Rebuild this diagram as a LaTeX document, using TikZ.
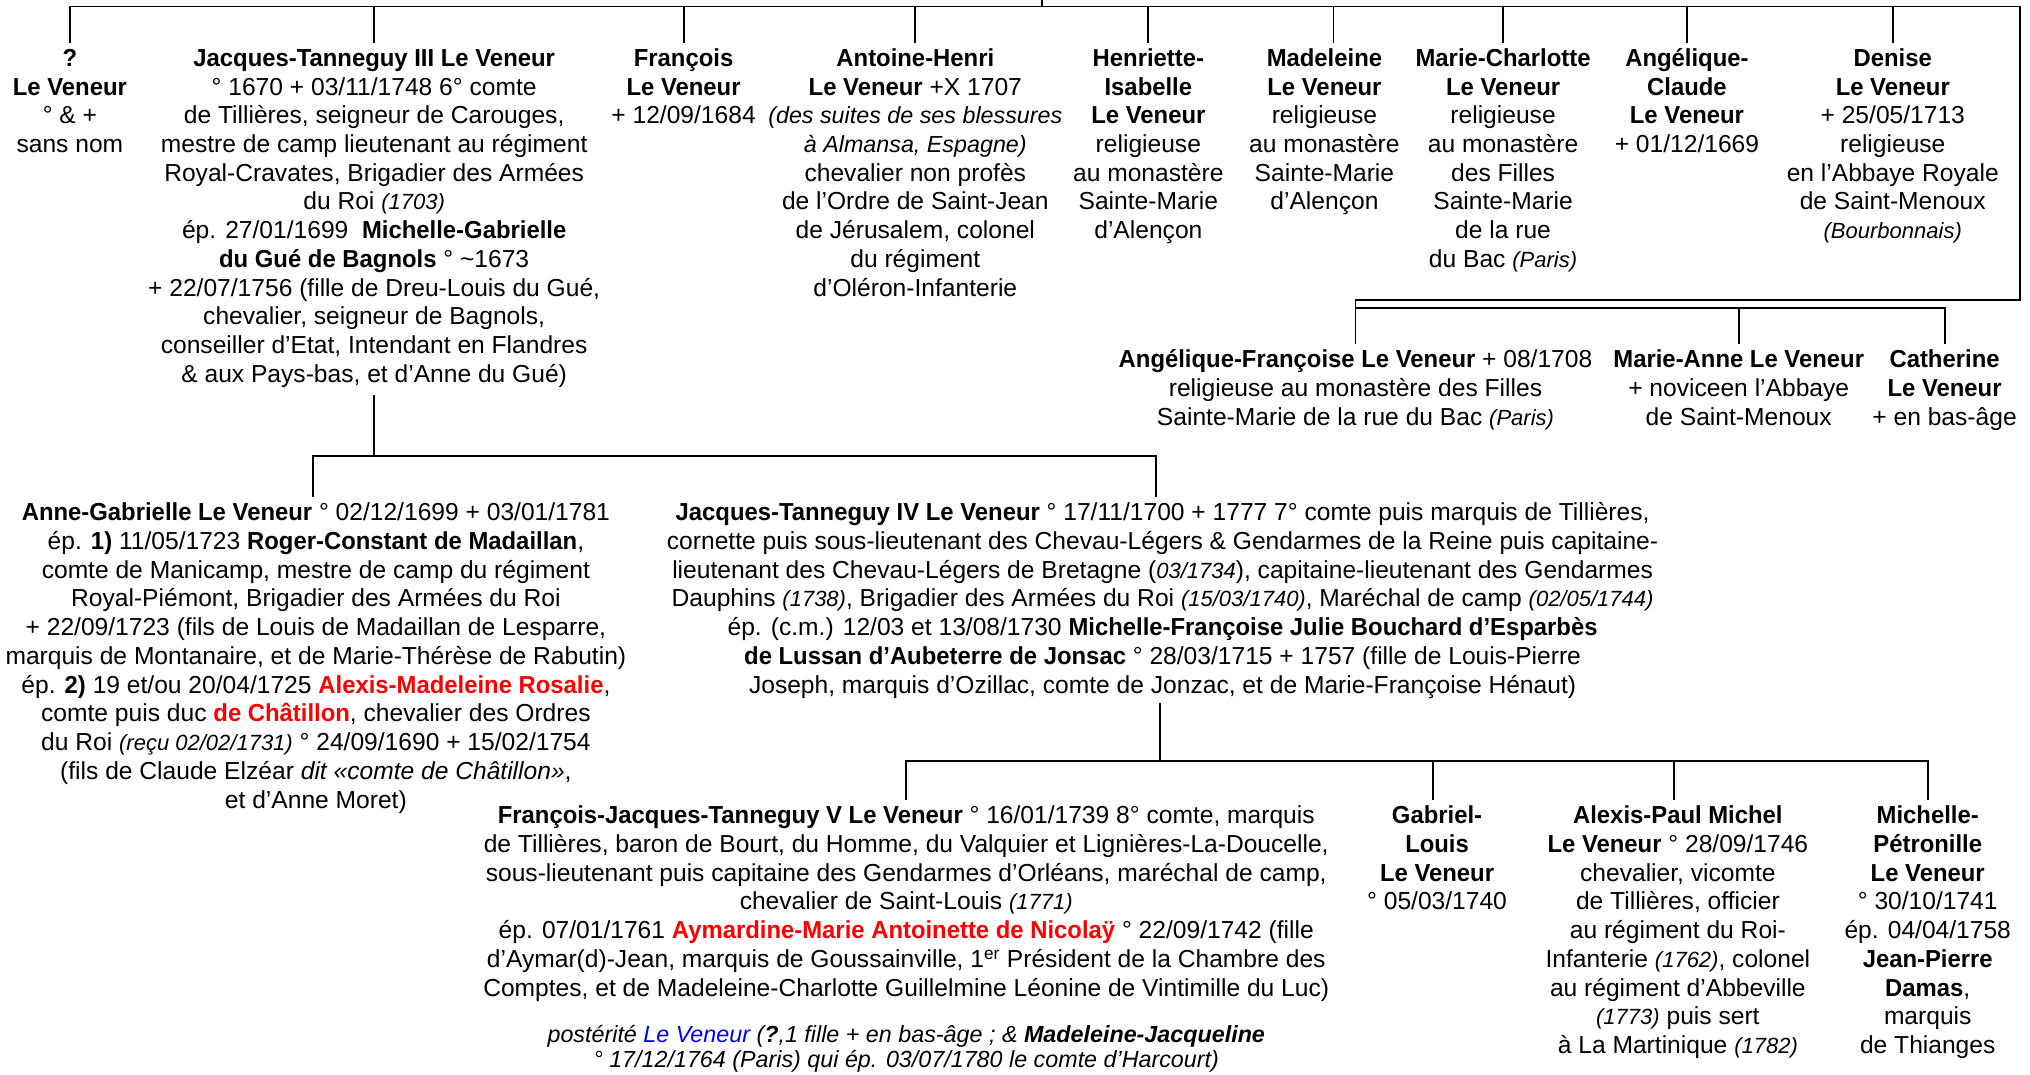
\documentclass[tikz,border=0pt]{standalone}
\usepackage{fontspec}
\setmainfont{Liberation Sans}[BoldFeatures={FakeStretch=0.97}]
\usepackage{xcolor}
\newcommand{\smit}[1]{{\fontsize{17}{22.2}\selectfont\itshape #1}}
\newcommand{\redb}[1]{\textcolor{red}{\textbf{#1}}}
\newcommand{\fl}{\rule{0pt}{18pt}}
\tikzset{
  p/.style={anchor=north, yshift=18pt, inner sep=0pt, align=center,
    font=\fontsize{19}{22.2}\selectfont, execute at end node=\strut},
  ln/.style={line width=1.5pt, line join=miter}
}
\begin{document}
\begin{tikzpicture}[x=1pt,y=1pt]
\useasboundingbox (0,0) rectangle (1568,-829.6);
% coordinates of bars
\coordinate (stub) at (805,0);
\coordinate (bar1) at (0,-5);
\coordinate (rc) at (1560,-5);
\coordinate (bar2) at (0,-232);
\coordinate (bar3) at (0,-238);
\coordinate (bar4) at (0,-352);
\coordinate (bar5) at (0,-588);

% row 1
\node[p] (n1) at (54,-51) {\fl\textbf{?}\\\textbf{Le Veneur}\\° \& +\\sans nom};
\node[p] (jt3) at (289,-51) {\fl\textbf{Jacques-Tanneguy III Le Veneur}\\
° 1670 + 03/11/1748 6° comte\\
de Tillières, seigneur de Carouges,\\
mestre de camp lieutenant au régiment\\
Royal-Cravates, Brigadier des Armées\\
du Roi \smit{(1703)}\\
ép. 27/01/1699 \ \textbf{Michelle-Gabrielle}\\
\textbf{du Gué de Bagnols} ° \textasciitilde1673\\
+ 22/07/1756 (fille de Dreu-Louis du Gué,\\
chevalier, seigneur de Bagnols,\\
conseiller d’Etat, Intendant en Flandres\\
\& aux Pays-bas, et d’Anne du Gué)};
\node[p] (n3) at (528,-51) {\fl\textbf{François}\\\textbf{Le Veneur}\\+ 12/09/1684};
\node[p] (n4) at (707,-51) {\fl\textbf{Antoine-Henri}\\
\textbf{Le Veneur} +X 1707\\
{\fontsize{18}{22.2}\selectfont\itshape (des suites de ses blessures}\\
{\fontsize{18}{22.2}\selectfont\itshape à Almansa, Espagne)}\\
chevalier non profès\\
de l’Ordre de Saint-Jean\\
de Jérusalem, colonel\\
du régiment\\
d’Oléron-Infanterie};
\node[p] (n5) at (887,-51) {\fl\textbf{Henriette-}\\\textbf{Isabelle}\\\textbf{Le Veneur}\\religieuse\\au monastère\\Sainte-Marie\\d’Alençon};
\node[p] (n6) at (1023,-51) {\fl\textbf{Madeleine}\\\textbf{Le Veneur}\\religieuse\\au monastère\\Sainte-Marie\\d’Alençon};
\node[p] (n7) at (1161,-51) {\fl\textbf{Marie-Charlotte}\\\textbf{Le Veneur}\\religieuse\\au monastère\\des Filles\\Sainte-Marie\\de la rue\\du Bac \smit{(Paris)}};
\node[p] (n8) at (1303,-51) {\fl\textbf{Angélique-}\\\textbf{Claude}\\\textbf{Le Veneur}\\+ 01/12/1669};
\node[p] (n9) at (1462,-51) {\fl\textbf{Denise}\\\textbf{Le Veneur}\\+ 25/05/1713\\religieuse\\en l’Abbaye Royale\\de Saint-Menoux\\\smit{(Bourbonnais)}};

% row 2
\node[p] (af) at (1047,-284) {\fl\textbf{Angélique-Françoise Le Veneur} + 08/1708\\religieuse au monastère des Filles\\Sainte-Marie de la rue du Bac \smit{(Paris)}};
\node[p] (ma) at (1343,-284) {\fl\textbf{Marie-Anne Le Veneur}\\+ noviceen l’Abbaye\\de Saint-Menoux};
\node[p] (ca) at (1502,-284) {\fl\textbf{Catherine}\\\textbf{Le Veneur}\\+ en bas-âge};

% row 3
\node[p] (ag) at (244,-402) {\fl\textbf{Anne-Gabrielle Le Veneur} ° 02/12/1699 + 03/01/1781\\
ép. \textbf{1)} 11/05/1723 \textbf{Roger-Constant de Madaillan},\\
comte de Manicamp, mestre de camp du régiment\\
Royal-Piémont, Brigadier des Armées du Roi\\
+ 22/09/1723 (fils de Louis de Madaillan de Lesparre,\\
marquis de Montanaire, et de Marie-Thérèse de Rabutin)\\
ép. \textbf{2)} 19 et/ou 20/04/1725 \redb{Alexis-Madeleine Rosalie},\\
comte puis duc \redb{de Châtillon}, chevalier des Ordres\\
du Roi \smit{(reçu 02/02/1731)} ° 24/09/1690 + 15/02/1754\\
(fils de Claude Elzéar \textit{dit «comte de Châtillon»},\\
et d’Anne Moret)};
\node[p] (jt4) at (898,-402) {\fl\textbf{Jacques-Tanneguy IV Le Veneur} ° 17/11/1700 + 1777 7° comte puis marquis de Tillières,\\
cornette puis sous-lieutenant des Chevau-Légers \& Gendarmes de la Reine puis capitaine-\\
lieutenant des Chevau-Légers de Bretagne (\smit{03/1734}), capitaine-lieutenant des Gendarmes\\
Dauphins \smit{(1738)}, Brigadier des Armées du Roi \smit{(15/03/1740)}, Maréchal de camp \smit{(02/05/1744)}\\
ép. (c.m.) 12/03 et 13/08/1730 \textbf{Michelle-Françoise Julie Bouchard d’Esparbès}\\
\textbf{de Lussan d’Aubeterre de Jonsac} ° 28/03/1715 + 1757 (fille de Louis-Pierre\\
Joseph, marquis d’Ozillac, comte de Jonzac, et de Marie-Françoise Hénaut)};

% row 4
\node[p] (fjt5) at (700,-636) {\fl\textbf{François-Jacques-Tanneguy V Le Veneur} ° 16/01/1739 8° comte, marquis\\
de Tillières, baron de Bourt, du Homme, du Valquier et Lignières-La-Doucelle,\\
sous-lieutenant puis capitaine des Gendarmes d’Orléans, maréchal de camp,\\
chevalier de Saint-Louis \smit{(1771)}\\
ép. 07/01/1761 \redb{Aymardine-Marie Antoinette de Nicolaÿ} ° 22/09/1742 (fille\\
d’Aymar(d)-Jean, marquis de Goussainville, 1\textsuperscript{er} Président de la Chambre des\\
Comptes, et de Madeleine-Charlotte Guillelmine Léonine de Vintimille du Luc)};
\node[p, font=\fontsize{18}{19.5}\selectfont\itshape, execute at end node={}] (post) at (700,-805) {\fl postérité \textcolor{blue}{Le Veneur} (\textbf{?},1 fille + en bas-âge ; \& \textbf{Madeleine-Jacqueline}\\
° 17/12/1764 (Paris) qui ép. 03/07/1780 le comte d’Harcourt)};
\node[p] (gl) at (1110,-636) {\fl\textbf{Gabriel-}\\\textbf{Louis}\\\textbf{Le Veneur}\\° 05/03/1740};
\node[p] (apm) at (1296,-636) {\fl\textbf{Alexis-Paul Michel}\\\textbf{Le Veneur} ° 28/09/1746\\chevalier, vicomte\\de Tillières, officier\\au régiment du Roi-\\Infanterie \smit{(1762)}, colonel\\au régiment d’Abbeville\\\smit{(1773)} puis sert\\à La Martinique \smit{(1782)}};
\node[p] (mp) at (1489,-636) {\fl\textbf{Michelle-}\\\textbf{Pétronille}\\\textbf{Le Veneur}\\° 30/10/1741\\ép. 04/04/1758\\\textbf{Jean-Pierre}\\\textbf{Damas},\\marquis\\de Thianges};

% connectors
\draw[ln] (stub) -- (stub |- bar1);
\draw[ln] (n1.north) -- (n1.north |- bar1) -- (rc) -- (rc |- bar2) -- (af.north |- bar2) -- (af.north);
\foreach \n in {jt3,n3,n4,n5,n7,n8,n9} \draw[ln] (\n.north |- bar1) -- (\n.north);
\draw[ln] ([xshift=7pt]n6.north |- bar1) -- ([xshift=7pt]n6.north);
\draw[ln] (af.north |- bar3) -- (ca.north |- bar3) -- (ca.north);
\draw[ln] (ma.north |- bar3) -- (ma.north);
\draw[ln] ([yshift=-3pt]jt3.south) -- (jt3.south |- bar4);
\draw[ln] ([xshift=-2pt]ag.north) -- ([xshift=-2pt]ag.north |- bar4) -- ([xshift=-5pt]jt4.north |- bar4) -- ([xshift=-5pt]jt4.north);
\draw[ln] ([xshift=-2pt,yshift=-1pt]jt4.south) -- ([xshift=-2pt]jt4.south |- bar5);
\draw[ln] (fjt5.north) -- (fjt5.north |- bar5) -- (mp.north |- bar5) -- (mp.north);
\draw[ln] ([xshift=-3pt]gl.north |- bar5) -- ([xshift=-3pt]gl.north);
\draw[ln] ([xshift=-3pt]apm.north |- bar5) -- ([xshift=-3pt]apm.north);
\end{tikzpicture}
\end{document}
